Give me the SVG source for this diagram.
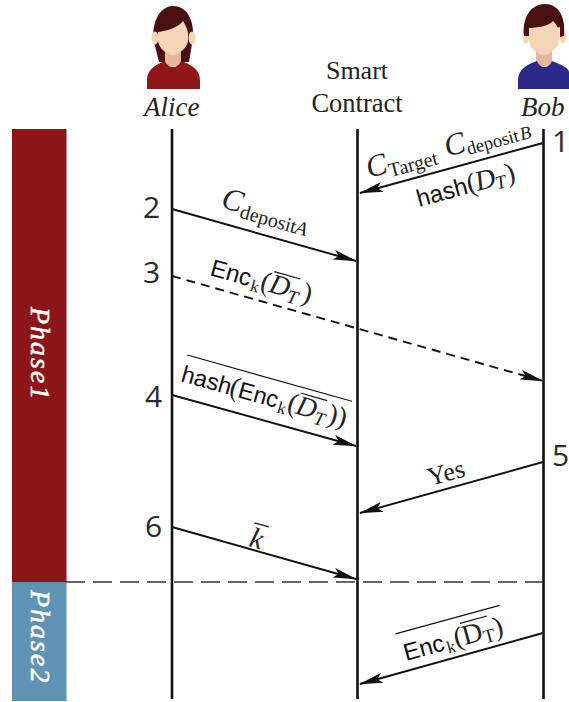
<svg xmlns="http://www.w3.org/2000/svg" width="569" height="702" viewBox="0 0 569 702">
<style>
.life{stroke:#111;stroke-width:2.6;fill:none}
.msg{stroke:#111;stroke-width:1.9;fill:none;marker-end:url(#ah)}
.over{stroke:#111;stroke-width:1.2;fill:none}
.num{font-family:"Open Sans",sans-serif;font-size:30px;fill:#2a2a2a}
.r{font-family:"Liberation Serif",serif;fill:#222}
.i{font-style:italic}
.s{font-family:"Liberation Sans",sans-serif;fill:#111}
.ph{font-family:"Liberation Serif",serif;font-style:italic;font-size:28px;fill:#fff;stroke:#fff;stroke-width:0.500;letter-spacing:2px}
.skin{fill:#f5d5b8}.neck{fill:#e6b69d}
</style>
<defs>
<marker id="ah" viewBox="0 0 24 12" refX="23" refY="6" markerWidth="24" markerHeight="12" markerUnits="userSpaceOnUse" orient="auto"><path d="M0 1L24 6L0 11L5 6Z" fill="#111"/></marker>
</defs>
<g id="phase1"><rect x="12" y="129" width="54.500" height="453" fill="#8b1519"/><text class="ph" transform="translate(31,307) rotate(90)">Phase1</text></g>
<g id="phase2"><rect x="12" y="582" width="54.500" height="119" fill="#5f93b5"/><text class="ph" transform="translate(31,590) rotate(90)">Phase2</text></g>
<g id="alice">
<path d="M153 38C153 16 163 6 173 6C186 6 194 18 193 38L189 62H159Z" fill="#4a0f10"/>
<ellipse cx="155" cy="38" rx="3.500" ry="6.500" class="skin"/><ellipse cx="192" cy="38" rx="3.500" ry="6.500" class="skin"/>
<rect x="165" y="50" width="16" height="16" class="neck"/>
<path d="M147 89V80C147 69 157 64 165 61C168 69 178 69 181 61C190 64 200 69 200 80V89Z" fill="#8f1619"/>
<path d="M158 32C166 31 178 28 183 21C186 26 188 30 188 34V40C188 48 178 55 173 55C167 55 158 48 158 40Z" class="skin"/>
<text class="r i" x="144" y="116" font-size="27">Alice</text>
</g>
<g id="contract"><text class="r" x="357" y="79" font-size="26" text-anchor="middle">Smart</text><text class="r" x="357" y="112" font-size="26.500" text-anchor="middle">Contract</text></g>
<g id="bob">
<ellipse cx="526" cy="37" rx="3.500" ry="6.500" class="skin"/><ellipse cx="563" cy="37" rx="3.500" ry="6.500" class="skin"/>
<rect x="536" y="50" width="16" height="16" class="neck"/>
<path d="M518 89V80C518 69 528 64 537 61C540 69 549 69 552 61C560 64 569 68 569 72V89Z" fill="#2c2a86"/>
<path d="M524 36C522 16 532 4 545 4C558 4 566 16 564 36L560 37V27L529 36Z" fill="#4a0f10"/>
<path d="M529 28C536 28 549 26 553 21C556 24 559 28 559 33V40C559 48 549 55 544 55C538 55 529 48 529 40Z" class="skin"/>
<text class="r i" x="521" y="116" font-size="27">Bob</text>
</g>
<g id="connectors">
<path class="life" d="M172 129V699M357.500 129V699M543.500 129V699"/>
<path d="M66 582H543" stroke="#333" stroke-width="1.300" stroke-dasharray="19 8" fill="none"/>
<path class="msg" d="M543 143L360 193"/>
<path class="msg" d="M172 209L356 261"/>
<path class="msg" d="M172 276L543 381" stroke-dasharray="9 6"/>
<path class="msg" d="M172 395L356 446"/>
<path class="msg" d="M543 462L360 513"/>
<path class="msg" d="M172 527L356 579"/>
<path class="msg" d="M543 633L360 684"/>
</g>
<g id="labels">
<text class="num" x="143" y="218">2</text>
<text class="num" x="143" y="283">3</text>
<text class="num" x="145" y="407">4</text>
<text class="num" x="145" y="537">6</text>
<text class="num" x="552" y="152">1</text>
<text class="num" x="552" y="466">5</text>
<g transform="translate(369,178) rotate(-15.300)"><text class="r i" font-size="31">C</text><text class="r" x="21" y="5" font-size="20">Target</text><text class="r i" x="81" font-size="31">C</text><text class="r" x="102" y="4" font-size="18.500">deposit</text><text class="r i" x="157" y="4" font-size="18.500">B</text></g>
<g transform="translate(419,207) rotate(-15.300)"><text class="s" font-size="24">hash</text><text class="r" x="52" font-size="28">(</text><text class="r i" x="61" font-size="28">D</text><text class="r i" x="80" y="4" font-size="19">T</text><text class="r" x="92" font-size="28">)</text></g>
<g transform="translate(220,207) rotate(15.800)"><text class="r i" font-size="31">C</text><text class="r" x="21" y="5" font-size="20">deposit</text><text class="r i" x="78" y="5" font-size="20">A</text></g>
<g transform="translate(209,275) rotate(15.800)"><text class="s" font-size="24">Enc</text><text class="r" x="43" y="4" font-size="17">k</text><text class="r" x="52" font-size="28">(</text><text class="r i" x="61" font-size="28">D</text><text class="r i" x="81" y="5" font-size="19">T</text><text class="r" x="95" font-size="28">)</text><path class="over" d="M62 -21H89"/></g>
<g transform="translate(180,381) rotate(15.700)"><text class="s" font-size="23.500">hash</text><text class="r" x="50" font-size="28">(</text><text class="s" x="59" font-size="23.500">Enc</text><text class="r" x="101" y="4" font-size="17">k</text><text class="r" x="110" font-size="28">(</text><text class="r i" x="119" font-size="28">D</text><text class="r i" x="139" y="5" font-size="19">T</text><text class="r" x="152" font-size="28">))</text><path class="over" d="M120 -21H147"/><path class="over" d="M0 -27H171"/></g>
<text class="r" transform="translate(430,486) rotate(-15.300)" font-size="26">Yes</text>
<g transform="translate(248,546) rotate(15.500)"><text class="r i" font-size="29">k</text><path class="over" d="M0 -24H15"/></g>
<g transform="translate(406,661) rotate(-15.300)"><text class="s" font-size="24">Enc</text><text class="r" x="43" y="4" font-size="17">k</text><text class="r" x="52" font-size="28">(</text><text class="r" x="61" font-size="28">D</text><text class="r" x="81" y="4" font-size="19">T</text><text class="r" x="93" font-size="28">)</text><path class="over" d="M62 -22H90"/><path class="over" d="M-3 -29H105"/></g>
</g>
</svg>
